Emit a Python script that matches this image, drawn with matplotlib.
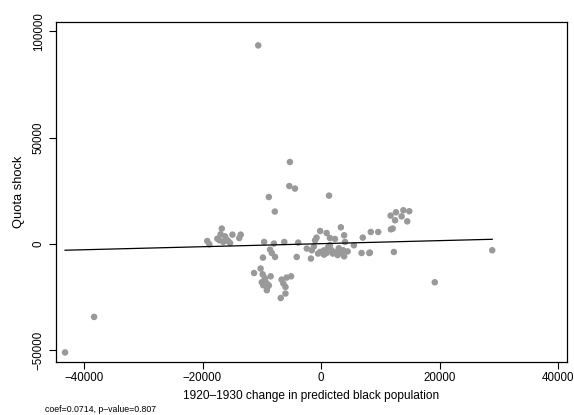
import numpy as np
import matplotlib
matplotlib.use("Agg")
import matplotlib.pyplot as plt

plt.rcParams['font.family'] = ['Liberation Sans', 'DejaVu Sans']

# change in predicted black population (x) vs quota shock (y)
pop_change = [
    -10600, -43200, -38300, 19200, 28900,
    # left cluster
    -19200, -18850, -16750, -16950, -16200, -17150, -16500, -15650, -15350,
    -14950, -13550, -13800, -16000, -17500,
    # middle, near zero
    -9600, -7950, -6200, -3850, -8600, -8300, -7750, -9800, -4100, -1700,
    # lower cluster
    -11300, -10200, -9850, -8500, -9450, -9150, -9750, -9050, -9150, -6650,
    -5800, -5050, -6350, -6000, -6000, -6800, -10000, -9500, -8800,
    # upper outliers
    -5250, -5350, -4400, -8800, 1350, -7800,
    # right-middle cluster
    -150, 950, 3350, 3900, -750, -1000, 1500, 2350, 4050, 5550, 7050, 8400,
    9650, -2400, -1550, -150, 950, 1800, 2650, 3750, 3900, 6850, 8150,
    500, 1200, 2000, 3000, -500, 2800, 1500, 4500, 500, -1200, 3300,
    # right cluster
    11750, 12650, 13900, 14900, 13600, 12500, 14550, 12100, 11800, 12300, 8250,
]
quota_shock = [
    93400, -51000, -34300, -18000, -2950,
    1400, -150, 7250, 4550, 3600, 1750, 950, 1400, 450,
    4400, 4400, 2800, 2300, 2500,
    950, 200, 950, 650, -2650, -4250, -6100, -6400, -6100, -6850,
    -13650, -11550, -14250, -15200, -17050, -18600, -19400, -20200, -21750, -16750,
    -15800, -15200, -18600, -20200, -23300, -25400, -18000, -16000, -19500,
    38550, 27250, 26050, 22100, 22750, 15250,
    6100, 5150, 7850, 4100, 3000, 1750, 2800, 2350, 950, -600, 3000, 5650,
    5650, -2150, -2950, -3750, -4250, -2950, -3750, -2950, -5800, -4250, -4250,
    -3000, -1500, -4500, -2000, -4500, -5200, -600, -3500, -5000, -1200, -4300,
    13350, 14900, 15850, 15400, 13000, 11150, 10650, 7250, 6900, -3750, -4050,
]

coef = 0.0714
intercept = 150
note = "coef=0.0714, p\u2013value=0.807"

x = np.array(pop_change)
y = np.array(quota_shock)

fig = plt.figure(figsize=(5.74, 4.15), dpi=100)
ax = fig.add_axes([56 / 574, 53 / 415, 511 / 574, 340 / 415])

ax.scatter(x, y, s=22, color='#999999', edgecolors='none', zorder=2)

xs = np.array([x.min(), x.max()])
ax.plot(xs, intercept + coef * xs, color='black', lw=0.9, zorder=3)

ax.set_xlim(-44730, 41520)
ax.set_ylim(-55500, 104400)
ax.set_xticks([-40000, -20000, 0, 20000, 40000])
ax.set_yticks([-50000, 0, 50000, 100000])
ax.set_xticklabels(['\u221240000', '\u221220000', '0', '20000', '40000'])
ax.set_yticklabels(['\u221250000', '0', '50000', '100000'], rotation=90, va='center')

ax.tick_params(direction='out', length=5, width=0.8, labelsize=8.3)
ax.tick_params(axis='x', pad=2.5)
ax.tick_params(axis='y', pad=3)
for s in ax.spines.values():
    s.set_linewidth(0.9)

ax.set_xlabel('1920\u20131930 change in predicted black population', fontsize=8.6, labelpad=4)
ax.set_ylabel('Quota shock', fontsize=9.3, labelpad=6)

fig.text(45 / 574, 1 - 409 / 415, note, fontsize=6.3, va='center', ha='left')

fig.savefig('out.png', dpi=100)
